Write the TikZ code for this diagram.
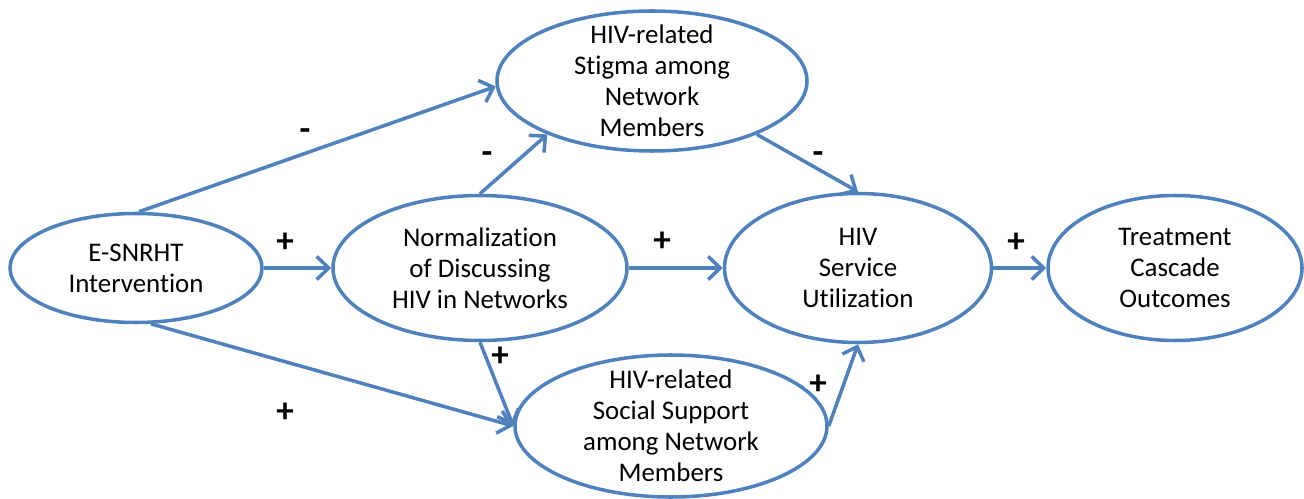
\documentclass[tikz,border=0pt]{standalone}
\usepackage{fontspec}
\setmainfont{Carlito}[Ligatures=NoCommon]
\usepackage{tikz}
\usetikzlibrary{shapes.geometric,arrows.meta}
\definecolor{pathblue}{RGB}{79,129,189}

\begin{document}
\begin{tikzpicture}[x=0.2mm,y=-0.2mm,
	every node/.style={font=\fontsize{15.3}{17.6}\selectfont},
	box/.style={ellipse,draw=pathblue,line width=2pt,inner xsep=0pt,inner ysep=-2.5mm,align=center},
	sign/.style={font=\fontsize{20}{20}\selectfont\bfseries,inner sep=0pt},
	link/.style={draw=pathblue,line width=2pt,-{Straight Barb[length=2.4mm,width=4.6mm]}}]
	\useasboundingbox (0,0) rectangle (1304,499);
	\node[box,minimum width=50.4mm,minimum height=21.8mm] (1) at (136,268) 
		{E-SNRHT\\Intervention};
	\node[box,minimum width=62mm,minimum height=28mm] (2) at (652,81) 
		{HIV-related\\Stigma among\\Network\\Members};
	\node[box,minimum width=58.8mm,minimum height=29mm] (3) at (480,268) 
		{Normalization\\of Discussing\\HIV in Networks};
	\node[box,minimum width=53.4mm,minimum height=29.8mm] (4) at (858,268) 
		{HIV\\Service\\Utilization};
	\node[box,minimum width=50.8mm,minimum height=29mm] (5) at (1175,268) 
		{Treatment\\Cascade\\Outcomes};
	\node[box,minimum width=62.4mm,minimum height=28.4mm] (6) at (671,426) 
		{HIV-related\\Social Support\\among Network\\Members};
	\draw [link] (1.87) to (2.182);
	\draw [link] (1) to (3);
	\draw [link] (1.-75) to (6.west);
	\draw [link] (3.north) to (2.207);
	\draw [link] (3) to (4);
	\draw [link] (3.south) to (6.west);
	\draw [link] (2.-27) to (4.north);
	\draw [link] (6.east) to (4.south);
	\draw [link] (4) to (5);
	% signs of the effects
	\node[sign] (s12) at (305,135) {-};
	\node[sign] (s13) at (285,243) {+};
	\node[sign] (s16) at (285,413) {+};
	\node[sign] (s32) at (487,158) {-};
	\node[sign] (s34) at (662,242) {+};
	\node[sign] (s36) at (500,357) {+};
	\node[sign] (s24) at (818,158) {-};
	\node[sign] (s64) at (818,385) {+};
	\node[sign] (s45) at (1016,243) {+};
\end{tikzpicture}
\end{document}
